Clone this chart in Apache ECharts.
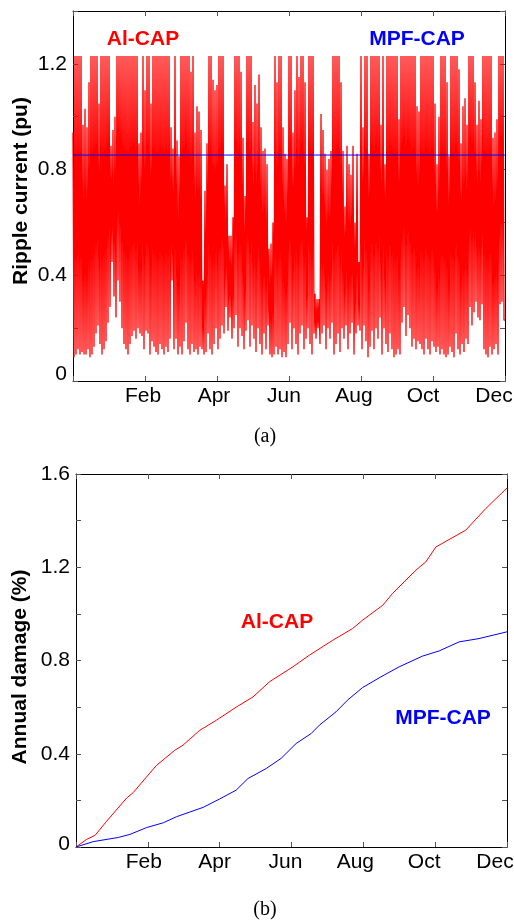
<!DOCTYPE html>
<html>
<head>
<meta charset="utf-8">
<script src="https://cdn.jsdelivr.net/npm/echarts@6/dist/echarts.min.js"></script>
<style>html,body{margin:0;padding:0;background:#fff;overflow:hidden}#c{width:514px;height:922px}</style>
</head>
<body>
<div id="c"></div>
<script>
// ---- data ----
const C = 1.23; // clipped ripple level
// Al-CAP ripple current: local peaks and troughs, one pair per ~1/18 month
const ripplePeaks = [
0.94,C,C,C,C,0.97,1.03,0.96,1.13,C,
C,C,C,1.05,C,C,C,C,C,0.89,
0.95,1.0,C,C,C,C,C,C,C,C,
C,C,C,0.90,0.94,C,1.1,C,C,1.05,
C,C,C,C,C,C,C,C,C,0.96,
0.88,C,0.91,0.85,
C,C,C,C,C,1.17,C,0.94,1.04,1.02,
0.95,0.38,0.72,0.90,C,C,1.14,1.10,1.12,C,
C,C,0.74,0.82,0.55,0.55,0.62,C,C,C,
1.17,0.92,0.70,C,C,C,0.98,1.12,1.05,1.16,
0.96,0.87,0.88,0.82,0.50,0.52,0.60,C,1.13,C,
C,0.96,0.86,0.84,
C,C,0.94,1.10,C,1.15,C,C,1.13,0.62,
C,C,C,0.33,0.31,0.31,1.01,0.95,0.86,0.80,
0.84,0.87,C,C,C,C,1.13,0.87,0.66,0.89,
0.82,0.78,0.89,0.60,0.86,0.45,C,0.96,C,C,
0.86,C,C,C,C,C,0.97,C,0.82,C,
C,C,C,C,
C,0.99,C,C,C,C,C,C,C,C,
1.04,1.02,C,C,C,C,C,C,C,1.05,
0.82,1.00,C,C,C,1.13,0.85,C,C,C,
C,1.18,0.90,1.04,1.07,0.97,C,C,C,1.13,
0.97,1.06,0.99,C,C,C,C,C,0.92,0.94,
0.99,C,C,C
];
const rippleTroughs = [
0.09,0.10,0.12,0.10,0.11,0.10,0.10,0.12,0.09,0.10,
0.13,0.18,0.21,0.14,0.10,0.12,0.15,0.22,0.28,0.45,
0.32,0.24,0.38,0.30,0.20,0.14,0.12,0.10,0.14,0.17,
0.19,0.16,0.20,0.18,0.17,0.12,0.19,0.18,0.10,0.15,
0.13,0.11,0.10,0.14,0.12,0.10,0.13,0.11,0.16,0.38,
0.12,0.16,0.10,0.13,
0.10,0.15,0.22,0.12,0.10,0.14,0.11,0.12,0.10,0.13,
0.12,0.10,0.11,0.18,0.12,0.10,0.14,0.20,0.12,0.16,
0.21,0.18,0.28,0.19,0.24,0.16,0.20,0.25,0.13,0.20,
0.17,0.12,0.19,0.23,0.13,0.21,0.16,0.11,0.20,0.14,
0.10,0.18,0.12,0.21,0.10,0.09,0.10,0.13,0.10,0.12,
0.09,0.11,0.09,0.14,
0.22,0.12,0.20,0.14,0.10,0.18,0.21,0.12,0.16,0.20,
0.14,0.10,0.18,0.16,0.20,0.14,0.18,0.21,0.12,0.20,
0.16,0.22,0.10,0.14,0.18,0.11,0.20,0.16,0.21,0.12,
0.18,0.22,0.10,0.18,0.21,0.19,0.12,0.21,0.15,0.09,
0.13,0.19,0.12,0.20,0.16,0.24,0.10,0.20,0.14,0.11,
0.18,0.12,0.09,0.10,
0.12,0.10,0.22,0.28,0.17,0.25,0.20,0.13,0.16,0.12,
0.15,0.14,0.12,0.10,0.16,0.12,0.10,0.15,0.13,0.11,
0.13,0.10,0.12,0.10,0.09,0.10,0.13,0.11,0.09,0.18,
0.12,0.10,0.14,0.11,0.16,0.14,0.28,0.21,0.26,0.30,
0.24,0.23,0.29,0.12,0.10,0.09,0.13,0.10,0.12,0.14,
0.10,0.29,0.30,0.23
];
// MPF-CAP ripple current (monthly, nearly constant)
const mpfRippleMonths = [0,1,2,3,4,5,6,7,8,9,10,11,12];
const mpfRipple = [0.855,0.855,0.855,0.855,0.855,0.855,0.855,0.855,0.855,0.855,0.855,0.855,0.855];

// Annual damage (%)
const alMonths = [0,0.30,0.53,0.85,1.41,1.59,1.96,2.24,2.75,2.98,3.44,3.91,4.46,4.93,5.39,6.04,6.5,7.15,7.7,7.98,8.54,8.81,9.46,9.74,10.02,10.85,11.41,12];
const alDamage = [0,0.033,0.05,0.11,0.21,0.233,0.30,0.35,0.415,0.437,0.50,0.544,0.60,0.644,0.709,0.773,0.823,0.887,0.937,0.973,1.037,1.087,1.187,1.223,1.287,1.359,1.452,1.54];
const mpfMonths = [0,0.48,1.18,1.5,1.96,2.43,2.8,3.54,4.0,4.46,4.79,5.3,5.71,6.13,6.55,6.78,7.24,7.56,7.98,8.49,9.0,9.65,10.11,10.67,11.22,12];
const mpfDamage = [0,0.023,0.041,0.054,0.083,0.104,0.13,0.17,0.206,0.244,0.294,0.337,0.38,0.444,0.487,0.523,0.58,0.63,0.684,0.73,0.773,0.819,0.841,0.88,0.894,0.923];

// tick labels
const monthTickValues = [2,4,6,8,10,12];
const monthTickLabels = ['Feb','Apr','Jun','Aug','Oct','Dec'];
const rippleTickLabels = ['0','0.4','0.8','1.2'];
const damageTickLabels = ['0','0.4','0.8','1.2','1.6'];

// ---- build ----
const step = 12 / ripplePeaks.length;
const rippleData = [];
for (let i = 0; i < ripplePeaks.length; i++) {
  rippleData.push([i * step, ripplePeaks[i]]);
  rippleData.push([(i + 0.5) * step, rippleTroughs[i]]);
}
rippleData.push([12, rippleTroughs[rippleTroughs.length - 1]]);
const zip = (a, b) => a.map((v, i) => [v, b[i]]);

const FONT = 'Liberation Sans, Arial, Helvetica, sans-serif';
const FS = 21;
const tickStyle = { inside: true, length: 5, lineStyle: { color: '#555', width: 1 } };
const lineStyle = { color: '#000', width: 1 };

// label shifts (px to the left) as placed in the original figure
const topShift = [2, 3, 5, 7, 10, 11];
const botShift = [4, 5, 6, 8, 11, 12];
function monthRich(shift) {
  const r = {};
  shift.forEach((s, i) => { r['m' + i] = { fontSize: FS, fontFamily: FONT, color: '#000', padding: [0, 2 * s, 0, 0] }; });
  return r;
}
const monthFmt = v => { const k = monthTickValues.indexOf(Math.round(v)); return k >= 0 ? '{m' + k + '|' + monthTickLabels[k] + '}' : ''; };
const yFmt = labels => v => {
  const k = Math.round(v * 10);
  if (k % 4 !== 0 || (k / 4) >= labels.length) return '';
  return k === 0 ? '{z|' + labels[0] + '}' : '{n|' + labels[k / 4] + '}';
};

function xAx(grid, pos, show, shift) {
  return { type: 'value', gridIndex: grid, position: pos, min: 0, max: 12, interval: 2,
    axisLine: { show: true, onZero: false, lineStyle }, axisTick: tickStyle, splitLine: { show: false },
    axisLabel: { show: show, formatter: monthFmt, color: '#000', fontSize: FS, fontFamily: FONT, margin: 5,
      rich: monthRich(shift) } };
}
function yAx(grid, pos, max, labels, show, zeroUp) {
  return { type: 'value', gridIndex: grid, position: pos, min: 0, max: max, interval: 0.2,
    axisLine: { show: true, onZero: false, lineStyle }, axisTick: tickStyle, splitLine: { show: false },
    axisLabel: { show: show, formatter: yFmt(labels), color: '#000', fontSize: FS, fontFamily: FONT, margin: 6,
      rich: { n: { fontSize: FS, fontFamily: FONT, color: '#000' },
              z: { fontSize: FS, fontFamily: FONT, color: '#000', padding: [0, 0, 2 * zeroUp, 0] } } } };
}

const chart = echarts.init(document.getElementById('c'), null, { renderer: 'canvas' });
chart.setOption({
  animation: false,
  backgroundColor: '#fff',
  grid: [
    { left: 73, top: 11, width: 432, height: 370, containLabel: false, outerBoundsMode: 'none' },
    { left: 76, top: 474, width: 431, height: 373, containLabel: false, outerBoundsMode: 'none' }
  ],
  xAxis: [xAx(0, 'bottom', true, topShift), xAx(0, 'top', false, topShift), xAx(1, 'bottom', true, botShift), xAx(1, 'top', false, botShift)],
  yAxis: [yAx(0, 'left', 1.4, rippleTickLabels, true, 7), yAx(0, 'right', 1.4, rippleTickLabels, false, 7),
          yAx(1, 'left', 1.6, damageTickLabels, true, 3), yAx(1, 'right', 1.6, damageTickLabels, false, 3)],
  series: [
    { type: 'line', xAxisIndex: 0, yAxisIndex: 0, data: rippleData, showSymbol: false, symbol: 'none',
      lineStyle: { color: '#ff0000', width: 1.3 }, z: 2 },
    { type: 'line', xAxisIndex: 0, yAxisIndex: 0, data: zip(mpfRippleMonths, mpfRipple), showSymbol: false, symbol: 'none',
      lineStyle: { color: '#0000ff', width: 1 }, z: 3 },
    { type: 'line', xAxisIndex: 2, yAxisIndex: 2, data: zip(alMonths, alDamage), showSymbol: false, symbol: 'none',
      lineStyle: { color: '#ff0000', width: 1 } },
    { type: 'line', xAxisIndex: 2, yAxisIndex: 2, data: zip(mpfMonths, mpfDamage), showSymbol: false, symbol: 'none',
      lineStyle: { color: '#0000ff', width: 1 } }
  ],
  graphic: [
    { type: 'text', x: 21, y: 191, rotation: Math.PI / 2, style: { text: 'Ripple current (pu)', font: 'bold 21px ' + FONT, fill: '#000', align: 'center', verticalAlign: 'middle' } },
    { type: 'text', x: 20, y: 667, rotation: Math.PI / 2, style: { text: 'Annual damage (%)', font: 'bold 21px ' + FONT, fill: '#000', align: 'center', verticalAlign: 'middle' } },
    { type: 'text', x: 143, y: 39, style: { text: 'Al-CAP', font: 'bold 21px ' + FONT, fill: '#ff0000', align: 'center', verticalAlign: 'middle' } },
    { type: 'text', x: 417, y: 39, style: { text: 'MPF-CAP', font: 'bold 21px ' + FONT, fill: '#0000ff', align: 'center', verticalAlign: 'middle' } },
    { type: 'text', x: 277, y: 622, style: { text: 'Al-CAP', font: 'bold 21px ' + FONT, fill: '#ff0000', align: 'center', verticalAlign: 'middle' } },
    { type: 'text', x: 443, y: 718, style: { text: 'MPF-CAP', font: 'bold 21px ' + FONT, fill: '#0000ff', align: 'center', verticalAlign: 'middle' } },
    { type: 'text', x: 265, y: 437, style: { text: '(a)', font: '20px Liberation Serif, Times New Roman, serif', fill: '#000', align: 'center', verticalAlign: 'middle' } },
    { type: 'text', x: 265, y: 910, style: { text: '(b)', font: '20px Liberation Serif, Times New Roman, serif', fill: '#000', align: 'center', verticalAlign: 'middle' } }
  ]
});
</script>
</body>
</html>
